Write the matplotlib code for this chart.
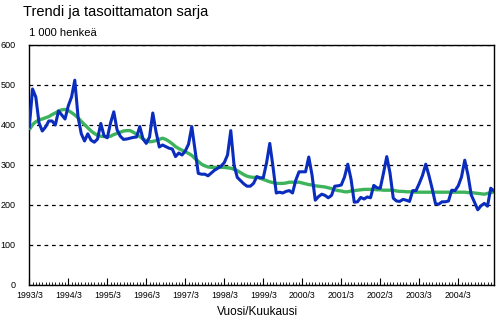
import matplotlib
matplotlib.use("Agg")
import matplotlib.pyplot as plt
from matplotlib.ticker import MultipleLocator, FixedLocator

plt.rcParams['font.family'] = ['Liberation Sans', 'DejaVu Sans']

title = "Trendi ja tasoittamaton sarja"
unit_label = "1 000 henkeä"
x_label = "Vuosi/Kuukausi"
year_labels = ["1993/3", "1994/3", "1995/3", "1996/3", "1997/3", "1998/3",
               "1999/3", "2000/3", "2001/3", "2002/3", "2003/3", "2004/3"]

# Monthly unadjusted series (1000 persons)
unadjusted = [
    395, 490, 470, 405, 385, 395, 410, 410, 400, 435, 425, 415,
    448, 470, 512, 420, 378, 360, 378, 362, 357, 365, 404, 373,
    368, 405, 433, 388, 372, 364, 365, 367, 369, 370, 396, 365,
    354, 370, 430, 383, 345, 350, 346, 342, 340, 321, 330, 325,
    335, 352, 396, 337, 279, 277, 277, 273, 280, 287, 292, 297,
    306, 325, 386, 300, 269, 261, 253, 247, 247, 254, 271, 268,
    268, 305, 354, 295, 230, 232, 230, 234, 236, 230, 262, 283,
    283, 283, 320, 275, 212, 221, 227, 224, 218, 224, 247, 248,
    250, 270, 302, 265, 207, 208, 219, 215, 220, 218, 249, 243,
    242, 280, 321, 280, 217, 210, 209, 214, 212, 209, 236, 236,
    254, 274, 302, 273, 240, 203, 202, 208, 208, 210, 237, 236,
    248, 270, 312, 275, 225, 207, 188, 198, 204, 197, 242, 235,
]

# Trend series (1000 persons)
trend = [
    388, 401, 408, 413, 415, 418, 421, 426, 430, 435, 438, 439,
    436, 431, 425, 418, 409, 401, 393, 385, 379, 374, 372, 371,
    371, 372, 376, 379, 382, 385, 386, 386, 382, 377, 371, 365,
    361, 358, 359, 361, 364, 367, 364, 359, 353, 346, 341, 337,
    333, 329, 324, 316, 309, 302, 298, 295, 294, 294, 294, 294,
    294, 293, 292, 289, 286, 281, 276, 272, 270, 269, 269, 267,
    264, 261, 258, 256, 254, 254, 254, 255, 257, 257, 257, 257,
    255, 253, 251, 250, 248, 247, 246, 245, 243, 241, 238, 236,
    235, 233, 233, 235, 236, 237, 238, 239, 239, 239, 239, 238,
    238, 237, 237, 237, 237, 235, 234, 234, 233, 233, 233, 232,
    232, 232, 232, 232, 232, 232, 232, 232, 232, 232, 232, 232,
    232, 232, 232, 231, 231, 230, 229, 228, 227, 229, 231, 232,
]

months = list(range(len(unadjusted)))

fig = plt.figure(figsize=(4.97, 3.26), dpi=100)
ax = fig.add_axes([29.3 / 497, 1 - 285 / 326, (494 - 29.3) / 497, 240 / 326])

ax.plot(months, trend, color='#3DB35C', lw=2.4, solid_capstyle='butt', zorder=3)
ax.plot(months, unadjusted, color='#0A2DBE', lw=2.2, solid_joinstyle='round', zorder=4)

ax.set_xlim(0, len(months) - 1)
ax.set_ylim(0, 600)

ax.yaxis.set_major_locator(MultipleLocator(100))
ax.yaxis.grid(True, color='black', linestyle=(0, (3, 3)), linewidth=0.9)
ax.set_axisbelow(True)
ax.tick_params(axis='y', length=0, pad=10, labelsize=6.5)

ax.xaxis.set_major_locator(FixedLocator([12 * k for k in range(len(year_labels))]))
ax.set_xticklabels(year_labels)
ax.xaxis.set_minor_locator(MultipleLocator(1))
ax.tick_params(axis='x', which='major', direction='in', length=5, width=0.8, labelsize=6.3, pad=4)
ax.tick_params(axis='x', which='minor', direction='in', length=2.2, width=0.6)

for s in ax.spines.values():
    s.set_linewidth(1.0)
    s.set_color('black')

fig.text(23 / 497, 1 - 12 / 326, title, fontsize=10.5, va='center', ha='left')
fig.text(29 / 497, 1 - 33 / 326, unit_label, fontsize=8, va='center', ha='left')
fig.text(258 / 497, 1 - 312 / 326, x_label, fontsize=8.5, va='center', ha='center')

fig.savefig("out.png", dpi=100)
